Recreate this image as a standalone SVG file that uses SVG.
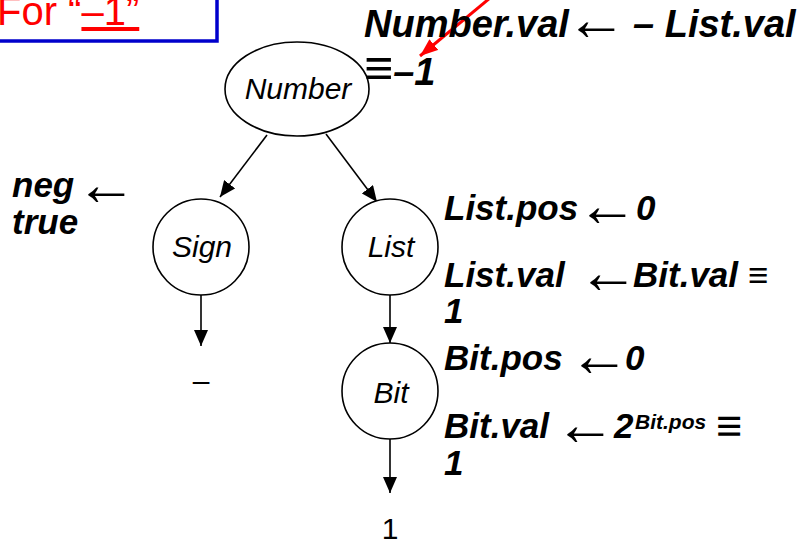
<svg xmlns="http://www.w3.org/2000/svg" width="802" height="543" viewBox="0 0 802 543">
<style>
.node{fill:#fff;stroke:#000;stroke-width:1.6}
.lbl{font-family:"Liberation Sans",Arial,sans-serif;font-style:italic;font-size:30px;fill:#000;text-anchor:middle}
.f{font-family:"Liberation Sans",Arial,sans-serif;font-style:italic;font-weight:bold;font-size:35px;fill:#000}
.top{font-size:38px}
.arr{font-family:"Liberation Serif","Times New Roman",serif;font-style:normal;font-weight:normal;font-size:61px}
.eq{font-style:normal}
.plain{font-family:"Liberation Sans",Arial,sans-serif;font-size:30px;fill:#000;text-anchor:middle}
.edge{stroke:#000;stroke-width:1.6;fill:none;marker-end:url(#ah)}
</style>
<defs>
<marker id="ah" viewBox="0 0 16 14" refX="16" refY="7" markerWidth="16" markerHeight="14" markerUnits="userSpaceOnUse" orient="auto">
<path d="M0,0 L16,7 L0,14 z" fill="#000"/>
</marker>
<marker id="ahr" viewBox="0 0 18 14" refX="18" refY="7" markerWidth="18" markerHeight="14" markerUnits="userSpaceOnUse" orient="auto">
<path d="M0,0 L18,7 L0,14 z" fill="#FF0000"/>
</marker>
</defs>
<rect width="802" height="543" fill="#fff"/>
<g id="title">
<rect x="-5" y="-5" width="222" height="46" fill="#fff" stroke="#0000CC" stroke-width="3.5"/>
<text x="-3" y="25" font-family="Liberation Sans,Arial,sans-serif" font-size="40" fill="#FF0000">For “<tspan text-decoration="underline">–1”</tspan></text>
</g>
<g id="connectors">
<line class="edge" x1="267" y1="135" x2="220" y2="197"/>
<line class="edge" x1="326" y1="134" x2="377" y2="202"/>
<line class="edge" x1="201" y1="295" x2="201" y2="346"/>
<line class="edge" x1="390" y1="295" x2="390" y2="343"/>
<line class="edge" x1="390" y1="439" x2="390" y2="493"/>
<line x1="490" y1="-2" x2="420" y2="56" stroke="#FF0000" stroke-width="3" marker-end="url(#ahr)"/>
</g>
<g id="node-number">
<ellipse class="node" cx="297" cy="89" rx="72" ry="47"/>
<text class="lbl" x="298" y="99">Number</text>
</g>
<g id="node-sign">
<circle class="node" cx="201" cy="247" r="48"/>
<text class="lbl" x="202" y="257">Sign</text>
</g>
<g id="node-list">
<circle class="node" cx="390" cy="247" r="48"/>
<text class="lbl" x="391" y="257">List</text>
</g>
<g id="node-bit">
<circle class="node" cx="390" cy="391" r="48"/>
<text class="lbl" x="391" y="403">Bit</text>
</g>
<g id="leaf-minus">
<text class="plain" x="201" y="391" font-size="54">–</text>
</g>
<g id="leaf-one">
<text class="plain" x="390" y="539">1</text>
</g>
<g id="annotations">
<text class="f top" x="364" y="37">Number.val<tspan class="arr" x="566" y="40">←</tspan><tspan x="633" y="37">– List.val</tspan></text>
<text class="f top" x="364" y="85"><tspan class="eq" font-size="50">≡</tspan>–1</text>
<text class="f" x="12" y="197">neg<tspan class="arr" x="76" y="205">←</tspan><tspan x="12" y="234">true</tspan></text>
<text class="f" x="444" y="220">List.pos<tspan class="arr" x="577" y="226">←</tspan><tspan x="636" y="220">0</tspan></text>
<text class="f" x="444" y="287">List.val<tspan class="arr" x="578" y="293">←</tspan><tspan x="633" y="287">Bit.val ≡</tspan><tspan x="444" y="323">1</tspan></text>
<text class="f" x="444" y="370">Bit.pos<tspan class="arr" x="569" y="376">←</tspan><tspan x="625" y="370">0</tspan></text>
<text class="f" x="444" y="438">Bit.val<tspan class="arr" x="555" y="445">←</tspan><tspan x="614" y="438">2</tspan><tspan x="635" y="429" font-size="21">Bit.pos</tspan><tspan class="eq" x="716" y="441" font-size="45">≡</tspan><tspan x="444" y="475">1</tspan></text>
</g>
</svg>
